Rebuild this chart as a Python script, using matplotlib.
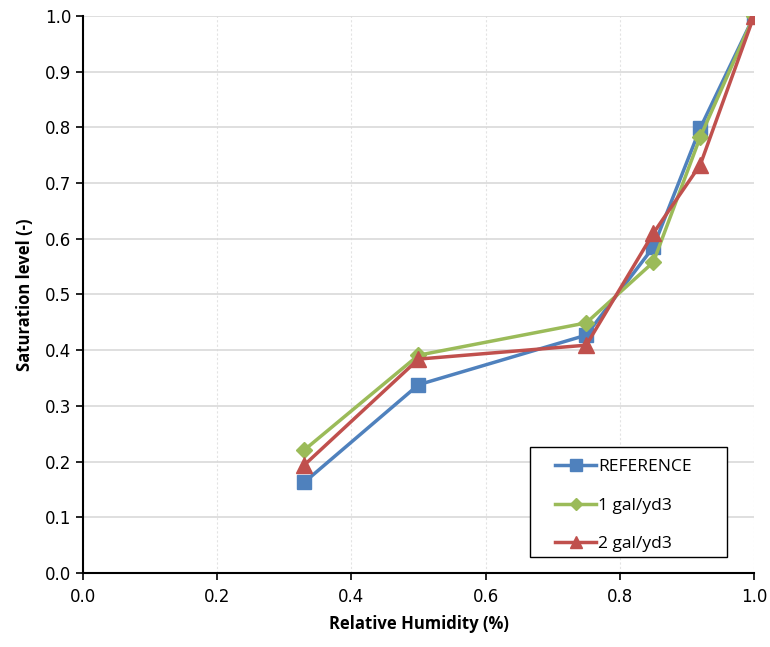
import matplotlib
matplotlib.use("Agg")
import matplotlib.pyplot as plt
from matplotlib.patches import Rectangle
import numpy as np

humidity = [0.33, 0.50, 0.75, 0.85, 0.92, 1.00]
reference = [0.163, 0.338, 0.427, 0.585, 0.799, 1.00]
gal1 = [0.221, 0.391, 0.449, 0.558, 0.783, 1.00]
gal2 = [0.194, 0.384, 0.409, 0.610, 0.733, 1.00]
labels = ["REFERENCE", "1 gal/yd3", "2 gal/yd3"]

fig = plt.figure(figsize=(7.7, 6.47), dpi=100)
ax = fig.add_axes([0.1078, 0.1144, 0.8714, 0.8609])

ax.plot(humidity, reference, color="#4F81BD", lw=2.5, marker="s", ms=10, label=labels[0], zorder=3)
ax.plot(humidity, gal1, color="#9BBB59", lw=2.5, marker="D", ms=8, label=labels[1], zorder=3)
ax.plot(humidity, gal2, color="#C0504D", lw=2.5, marker="^", ms=11, label=labels[2], zorder=3)

ax.set_xlim(0, 1)
ax.set_ylim(0, 1)
ax.set_xticks(np.arange(0, 1.01, 0.2))
ax.set_yticks(np.arange(0, 1.01, 0.1))
ax.set_xticklabels([f"{v:.1f}" for v in np.arange(0, 1.01, 0.2)])
ax.set_yticklabels([f"{v:.1f}" for v in np.arange(0, 1.01, 0.1)])

ax.yaxis.grid(True, color="#D9D9D9", lw=1.2)
ax.xaxis.grid(True, color="#E3E3E3", lw=0.8, ls=(0, (2, 2)))
ax.set_axisbelow(True)

ax.spines["top"].set_visible(False)
ax.spines["right"].set_visible(False)
ax.spines["left"].set_linewidth(1.5)
ax.spines["bottom"].set_linewidth(1.5)
ax.tick_params(direction="out", length=5, width=1.2, labelsize=12, colors="black")
ax.tick_params(axis="x", pad=6)

ax.set_xlabel("Relative Humidity (%)", fontsize=12, fontweight="bold", family="Open Sans", labelpad=6)
ax.set_ylabel("Saturation level (-)", fontsize=12, fontweight="bold", family="Open Sans", labelpad=8)

# legend frame drawn separately so the entries can sit inset like the original
ax.add_patch(Rectangle((0.666, 0.0287), 0.2936, 0.1975, transform=ax.transAxes,
                       facecolor="white", edgecolor="black", lw=1.0, zorder=5))
leg = ax.legend(loc="upper left", bbox_to_anchor=(0.703, 0.205), borderaxespad=0, borderpad=0,
                frameon=False, prop={"family": "Open Sans", "size": 12.5}, handlelength=2.4,
                labelspacing=1.3, handletextpad=0.1, markerscale=0.8)
leg.set_zorder(6)

fig.savefig("out.png", dpi=100)
